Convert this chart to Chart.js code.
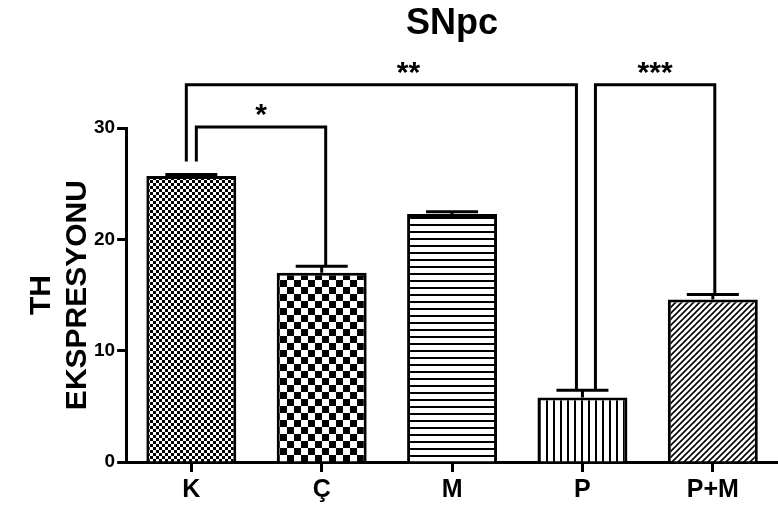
<!DOCTYPE html>
<html>
<head>
<meta charset="utf-8">
<title>SNpc</title>
<script src="https://cdn.jsdelivr.net/npm/chart.js"></script>
<style>
  html, body { margin: 0; padding: 0; background: #fff; }
  #wrap { width: 778px; height: 508px; }
</style>
</head>
<body>
<div id="wrap"><canvas id="chart"></canvas></div>
<script>
const groups = ['K', 'Ç', 'M', 'P', 'P+M'];
const means = [25.7, 17.0, 22.3, 5.8, 14.6];
const sems = [0.15, 0.6, 0.2, 0.65, 0.45];
const yTicks = [0, 10, 20, 30];

// significance brackets (group indices, level and leg ends in data units)
const bracketFrom = [0, 0, 3];
const bracketTo = [1, 3, 4];
const bracketLevel = [30.1, 33.9, 33.9];
const legEndLeft = [27.0, 27.0, 6.45];
const legEndRight = [17.6, 6.45, 15.05];
const bracketLabels = ['*', '**', '***'];

const FONT = "'Liberation Sans', Arial, sans-serif";
Chart.defaults.font.family = FONT;
Chart.defaults.color = '#000';

function makePattern(kind) {
    const c = document.createElement('canvas');
    const g = c.getContext('2d');
    let n = 6;
    if (kind === 'check7') n = 14;
    if (kind === 'hlines' || kind === 'vlines') n = 7;
    c.width = c.height = n;
    g.fillStyle = '#fff';
    g.fillRect(0, 0, n, n);
    g.fillStyle = '#000';
    g.strokeStyle = '#000';
    if (kind === 'check3') {
        g.fillRect(0, 0, 3, 3); g.fillRect(3, 3, 3, 3);
    } else if (kind === 'check7') {
        g.fillRect(0, 0, 7, 7); g.fillRect(7, 7, 7, 7);
    } else if (kind === 'hlines') {
        g.fillRect(0, 0, n, 2);
    } else if (kind === 'vlines') {
        g.fillRect(0, 0, 2, n);
    } else if (kind === 'diag') {
        g.lineWidth = 1.6;
        g.beginPath();
        g.moveTo(-1, n + 1); g.lineTo(n + 1, -1);
        g.moveTo(-1, 1); g.lineTo(1, -1);
        g.moveTo(n - 1, n + 1); g.lineTo(n + 1, n - 1);
        g.stroke();
    }
    return g.createPattern(c, 'repeat');
}

const patterns = ['check3', 'check7', 'hlines', 'vlines', 'diag'].map(makePattern);

const annotPlugin = {
    id: 'annot',
    afterDatasetsDraw(chart) {
        const { ctx, scales: { x, y } } = chart;
        const legShift = [[5, 4], [-5, -6], [13, 2]];
        const labelShift = [0, 27, 0];
        ctx.save();
        ctx.strokeStyle = '#000';
        ctx.lineWidth = 3;
        // error bars (upper only)
        means.forEach((m, i) => {
            const cx = x.getPixelForValue(i);
            const top = y.getPixelForValue(m + sems[i]);
            const base = y.getPixelForValue(m);
            ctx.beginPath();
            ctx.moveTo(cx, base); ctx.lineTo(cx, top);
            ctx.moveTo(cx - 26, top); ctx.lineTo(cx + 26, top);
            ctx.stroke();
        });
        // brackets
        ctx.font = 'bold 30px ' + FONT;
        ctx.textAlign = 'center';
        ctx.textBaseline = 'alphabetic';
        ctx.fillStyle = '#000';
        bracketLabels.forEach((lab, k) => {
            const x1 = x.getPixelForValue(bracketFrom[k]) + legShift[k][0];
            const x2 = x.getPixelForValue(bracketTo[k]) + legShift[k][1];
            const yl = y.getPixelForValue(bracketLevel[k]);
            ctx.beginPath();
            ctx.moveTo(x1, y.getPixelForValue(legEndLeft[k]));
            ctx.lineTo(x1, yl);
            ctx.lineTo(x2, yl);
            ctx.lineTo(x2, y.getPixelForValue(legEndRight[k]));
            ctx.stroke();
            ctx.fillText(lab, (x1 + x2) / 2 + labelShift[k], yl - 3);
        });
        ctx.restore();
    }
};

new Chart(document.getElementById('chart'), {
    type: 'bar',
    data: {
        labels: groups,
        datasets: [{
            data: means,
            backgroundColor: patterns,
            borderColor: '#000',
            borderWidth: 3,
            borderSkipped: 'start',
            barPercentage: 0.69,
            categoryPercentage: 1
        }]
    },
    options: {
        responsive: true,
        maintainAspectRatio: false,
        animation: false,
        layout: { padding: { left: 20, right: 0, top: 0, bottom: 0 } },
        plugins: {
            legend: { display: false },
            tooltip: { enabled: false },
            title: {
                display: true,
                text: 'SNpc',
                fullSize: false,
                color: '#000',
                font: { size: 36, weight: 'bold', lineHeight: 1.2 },
                padding: { top: 2, bottom: 83 }
            }
        },
        scales: {
            x: {
                ticks: { color: '#000', font: { size: 25, weight: 'bold' }, padding: 3 },
                grid: { drawOnChartArea: false, offset: false, tickLength: 10, tickWidth: 3, tickColor: '#000' },
                border: { color: '#000', width: 3 }
            },
            y: {
                min: 0,
                max: 30,
                afterBuildTicks: s => { s.ticks = yTicks.map(v => ({ value: v })); },
                ticks: { color: '#000', font: { size: 19, weight: 'bold' }, padding: 2 },
                grid: { drawOnChartArea: false, tickLength: 9, tickWidth: 3, tickColor: '#000' },
                border: { color: '#000', width: 3 },
                title: {
                    display: true,
                    text: ['TH', 'EKSPRESYONU'],
                    color: '#000',
                    font: { size: 30, weight: 'bold', lineHeight: 1.2 },
                    padding: { top: 4, bottom: -4 }
                }
            }
        }
    },
    plugins: [annotPlugin]
});
</script>
</body>
</html>
